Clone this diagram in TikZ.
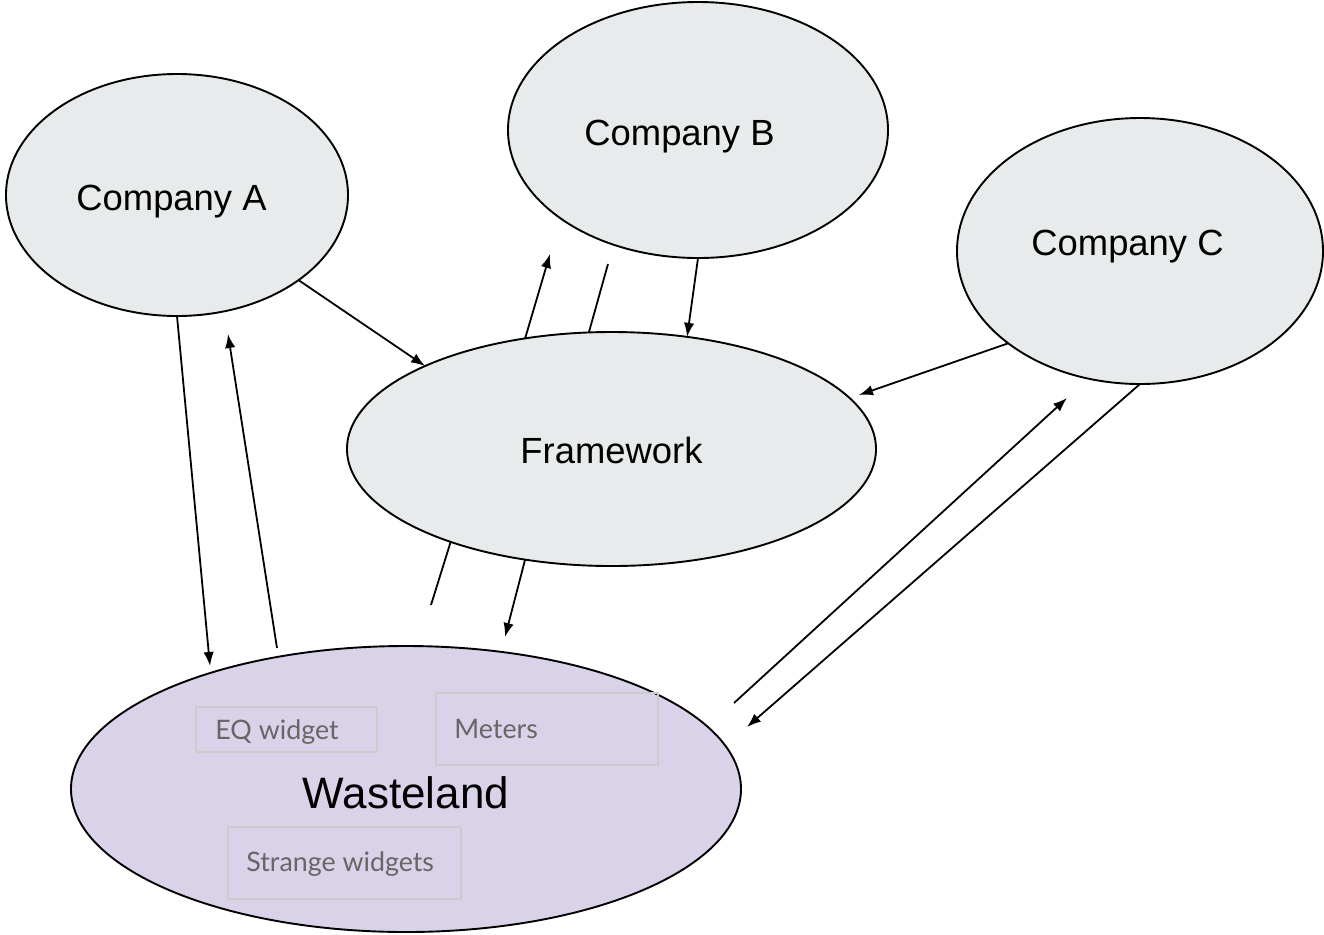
\documentclass[tikz,border=0pt]{standalone}
\usepackage{fontspec}
\setmainfont{Liberation Sans}
\newfontfamily\latofont{Lato}
\usepackage{tikz}
\usetikzlibrary{shapes.geometric,arrows.meta}
\definecolor{shell}{HTML}{E8EBEC}
\definecolor{waste}{HTML}{D9D2E9}
\definecolor{boxline}{HTML}{CCCCCC}
\definecolor{tagtext}{HTML}{666666}

\begin{document}
\begin{tikzpicture}[x=0.5pt, y=-0.5pt, >={Latex[length=7pt,width=5.2pt]},
		blob/.style = {ellipse, draw, line width=0.95pt, fill=shell, inner sep=0pt, outer sep=0pt},
		title/.style = {anchor=base, font=\fontsize{18.2pt}{21pt}\selectfont},
		widget/.style = {draw=boxline, line width=0.6pt},
		tag/.style = {anchor=base west, inner sep=0pt, text=tagtext, font=\latofont\fontsize{13.4pt}{16pt}\selectfont},
		link/.style = {->, line width=0.9pt},
		plain/.style = {line width=0.9pt}]
		\useasboundingbox (0,0) rectangle (1324,934);
		% the five blobs
		\node[blob, minimum width=171pt, minimum height=121pt] (compA) at (177,195) {};
		\node[blob, minimum width=190pt, minimum height=128pt] (compB) at (698,130) {};
		\node[blob, minimum width=183pt, minimum height=133pt] (compC) at (1140,251) {};
		\node[blob, minimum width=264.5pt, minimum height=117pt] (frame) at (611.5,449) {};
		\node[blob, fill=waste, minimum width=335pt, minimum height=143pt] (waste) at (406,789) {};
		\node[title] (labA) at (171.5,210) {Company A};
		\node[title] (labB) at (679.5,145) {Company B};
		\node[title] (labC) at (1127.5,255) {Company C};
		\node[title] (labF) at (611.5,463) {Framework};
		\node[title, font=\fontsize{22pt}{26pt}\selectfont] (labW) at (406,808) {Wasteland};
		% boxes inside the wasteland
		\draw[widget] (196,707) rectangle (377,752);
		\draw[widget] (436,693) rectangle (658,765);
		\draw[widget] (228,827) rectangle (461,899);
		\node[tag] (eq) at (215,739) {EQ widget};
		\node[tag] (meters) at (454,738) {Meters};
		\node[tag] (strange) at (246,871) {Strange widgets};
		% loose ends
		\coordinate (a1) at (210,666);
		\coordinate (a2) at (277,648);
		\coordinate (a3) at (228,334);
		\coordinate (b1) at (550,254);
		\coordinate (b2) at (608,264);
		\coordinate (f1) at (859,395);
		\coordinate (c1) at (734,703);
		\coordinate (c2) at (1067,398);
		\coordinate (w1) at (747,727);
		\coordinate (w2) at (505,637);
		\coordinate (w3) at (431,605);
		% arrows
		\draw[link] (compA.-35.7) -- (frame.156.3);
		\draw[link] (compA.-90) -- (a1);
		\draw[link] (a2) -- (a3);
		\draw[link] (frame.128.9) -- (b1);
		\draw[plain] (frame.101.4) -- (b2);
		\draw[link] (compB.-90) -- (frame.56);
		\draw[link] (compC.215.7) -- (f1);
		\draw[link] (c1) -- (c2);
		\draw[link] (compC.-90) -- (w1);
		\draw[link] (frame.232.3) -- (w2);
		\draw[plain] (frame.210.2) -- (w3);
\end{tikzpicture}
\end{document}
